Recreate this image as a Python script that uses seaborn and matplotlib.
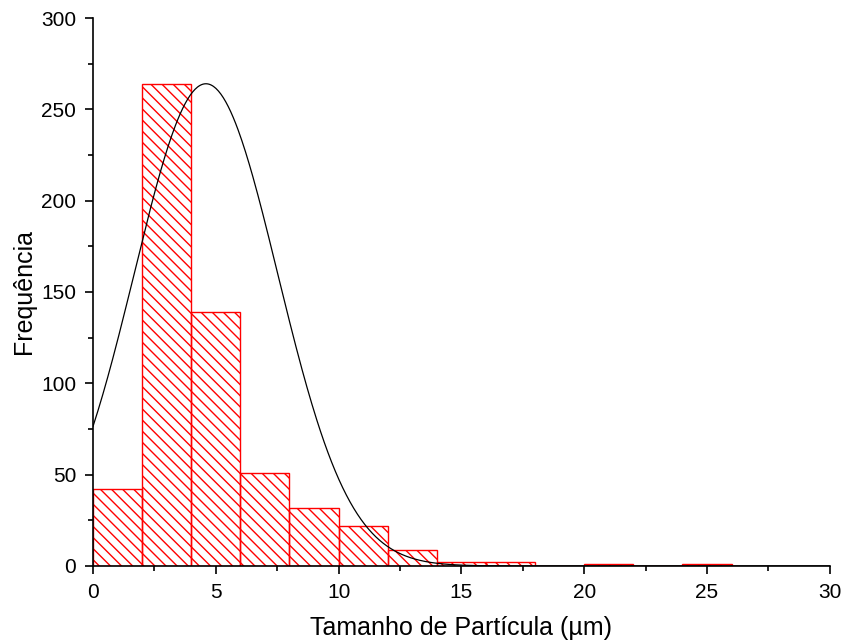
import numpy as np
import pandas as pd
import matplotlib
matplotlib.use("Agg")
import matplotlib.pyplot as plt
import seaborn as sns

# Data
bin_edges = [0, 2, 4, 6, 8, 10, 12, 14, 16, 18, 20, 22, 24, 26]
counts = [42, 264, 139, 51, 32, 22, 9, 2, 2, 0, 1, 0, 1]
# fitted normal curve parameters
fit_mean = 4.6
fit_sigma = 2.92
fit_peak = 264

x_ticks = [0, 5, 10, 15, 20, 25, 30]
y_ticks = [0, 50, 100, 150, 200, 250, 300]

sns.set_style("ticks", {"axes.edgecolor": "black", "xtick.color": "black",
                        "ytick.color": "black", "text.color": "black",
                        "axes.labelcolor": "black"})
plt.rcParams['font.family'] = ['Liberation Sans', 'DejaVu Sans']
plt.rcParams['hatch.linewidth'] = 1.0

fig = plt.figure(figsize=(8.45, 6.43), dpi=100)
ax = fig.add_axes([0.110, 0.1198, 0.872, 0.8522])

centers = [(bin_edges[i] + bin_edges[i + 1]) / 2 for i in range(len(counts))]
df = pd.DataFrame({"size": centers, "count": counts})
sns.histplot(data=df, x="size", weights="count", bins=bin_edges, ax=ax,
             color="white", edgecolor="red", linewidth=1.0, alpha=1.0)
for p in ax.patches:
    p.set_hatch("\\\\\\")
    p.set_edgecolor("red")
    p.set_facecolor("none")

xc = np.linspace(0, 30, 600)
yc = fit_peak * np.exp(-(xc - fit_mean) ** 2 / (2 * fit_sigma ** 2))
sns.lineplot(x=xc, y=yc, ax=ax, color="black", linewidth=0.9)

ax.set_xlim(0, 30)
ax.set_ylim(0, 300)
ax.set_xticks(x_ticks)
ax.set_yticks(y_ticks)
ax.set_xticks(np.arange(2.5, 30, 5), minor=True)
ax.set_yticks(np.arange(25, 300, 50), minor=True)
ax.tick_params(axis="both", which="major", length=6, width=1.2, labelsize=15,
               direction="out", colors="black", pad=6)
ax.tick_params(axis="both", which="minor", length=3.5, width=1.2, direction="out",
               colors="black")
for s in ["left", "bottom"]:
    ax.spines[s].set_linewidth(1.2)
    ax.spines[s].set_color("black")
sns.despine(ax=ax)
ax.set_xlabel("Tamanho de Partícula (µm)", fontsize=18, labelpad=10, color="black")
ax.set_ylabel("Frequência", fontsize=18, labelpad=4, color="black")
ax.grid(False)

fig.savefig("out.png", dpi=100)
